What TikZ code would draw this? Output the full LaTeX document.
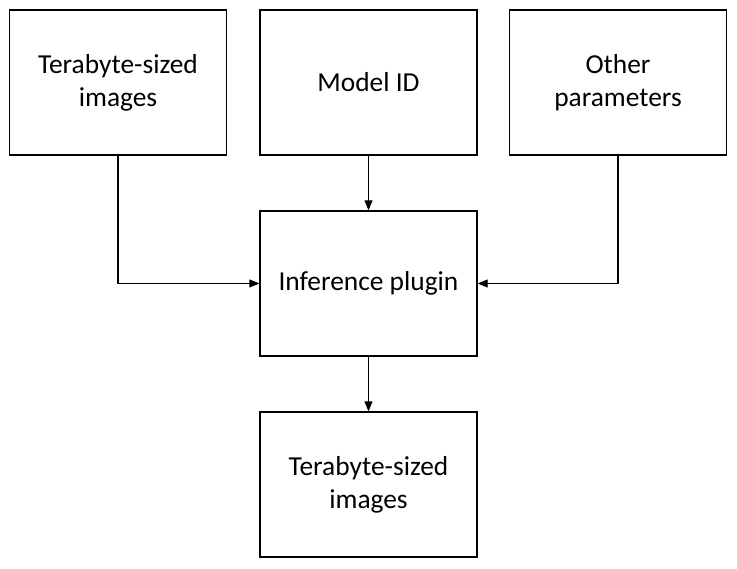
\documentclass[tikz,border=0pt]{standalone}
\usepackage{fontspec}
\setmainfont{Carlito}
\usepackage{tikz}
\usetikzlibrary{arrows.meta,calc}

\tikzset{
  block/.style={draw, line width=0.75pt, minimum width=4.34cm, minimum height=2.9cm,
    align=center, font=\fontsize{15.6}{18.8}\selectfont, inner sep=0pt},
  link/.style={line width=0.6pt, -{Triangle[length=0.2cm,width=0.16cm]}}
}

\begin{document}
\begin{tikzpicture}
\useasboundingbox (0,0) rectangle (14.74,-11.38);
\node [block] (imgin) at (2.36,-1.65) {Terabyte-sized\\images};
\node [block] (model) at (7.37,-1.65) {Model ID};
\node [block] (params) at (12.36,-1.65) {Other\\parameters};
\node [block] (infer) at (7.37,-5.67) {Inference plugin};
\node [block] (imgout) at (7.37,-9.69) {Terabyte-sized\\images};
\draw [link] (imgin.south) |- (infer.west);
\draw [link] (model.south) -- (infer.north);
\draw [link] (params.south) |- (infer.east);
\draw [link] (infer.south) -- (imgout.north);
\end{tikzpicture}
\end{document}
